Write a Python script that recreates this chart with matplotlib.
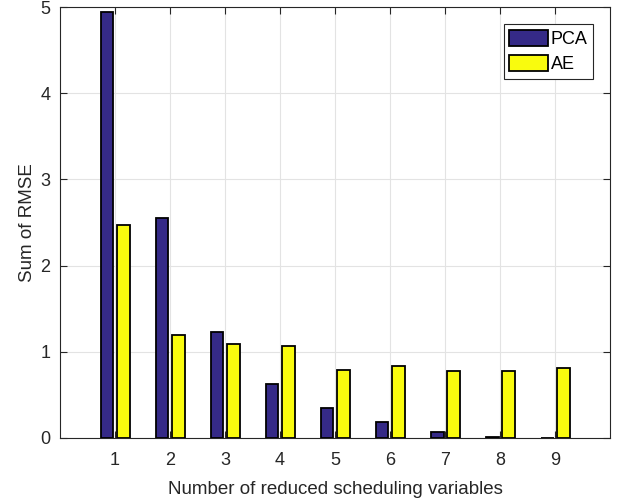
import numpy as np
import matplotlib
matplotlib.use("Agg")
from matplotlib import pyplot as plt

plt.rcParams['font.family'] = ['Liberation Sans', 'DejaVu Sans']

# data
n_vars = [1, 2, 3, 4, 5, 6, 7, 8, 9]
pca = [4.94, 2.555, 1.224, 0.624, 0.353, 0.186, 0.074, 0.01, 0.005]
ae = [2.47, 1.20, 1.096, 1.065, 0.79, 0.836, 0.78, 0.775, 0.81]

fig = plt.figure(figsize=(6.24, 5.04), dpi=100)
ax = fig.add_axes([0.096, 0.131, 0.882, 0.855])

x = np.array(n_vars)
w = 0.23
ax.bar(x - 0.145, pca, w, color="#352a87", edgecolor="black", lw=1.3, label="PCA", zorder=3)
ax.bar(x + 0.155, ae, w, color="#f9fb0e", edgecolor="black", lw=1.3, label="AE", zorder=3)

ax.set_xlim(0, 10)
ax.set_ylim(0, 5)
ax.set_xticks(n_vars)
ax.set_yticks([0, 1, 2, 3, 4, 5])
ax.grid(True, color="#e3e3e3", lw=0.8, zorder=0)
ax.tick_params(direction="in", top=True, right=True, labelsize=13, length=5,
               color="#262626", labelcolor="#262626")
ax.tick_params(axis="x", pad=10)
ax.tick_params(axis="y", pad=7)
for s in ax.spines.values():
    s.set_color("#262626")
    s.set_linewidth(0.8)

ax.set_xlabel("Number of reduced scheduling variables", fontsize=13.5, color="#262626", labelpad=9)
ax.set_ylabel("Sum of RMSE", fontsize=13.5, color="#262626", labelpad=3)

leg = ax.legend(loc="upper right", fontsize=13, fancybox=False, framealpha=1,
                edgecolor="#262626", handlelength=2.15, handleheight=1.05,
                handletextpad=0.15, borderpad=0.3, labelspacing=0.35,
                borderaxespad=0, bbox_to_anchor=(0.969, 0.96))
leg.get_frame().set_linewidth(0.8)

plt.savefig("out.png")
